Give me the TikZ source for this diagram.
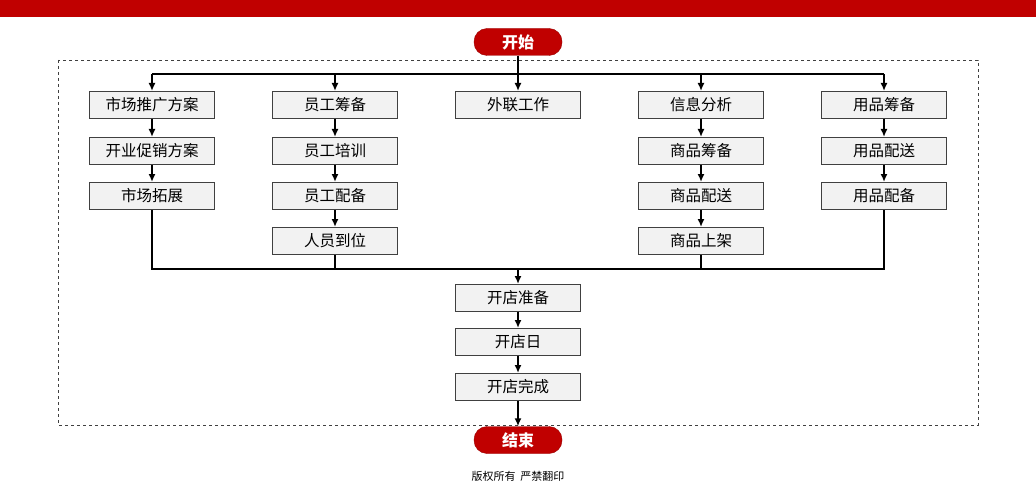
\documentclass[tikz,border=0pt]{standalone}
\usepackage{fontspec}
\setmainfont{Noto Sans CJK SC}
\usetikzlibrary{arrows.meta}
\definecolor{hdred}{RGB}{192,0,0}
\tikzset{
  stepbox/.style={draw=black!75, line width=1pt, fill=black!5, minimum width=125pt, minimum height=27pt, inner sep=0pt, font=\fontsize{15.5}{15.5}\selectfont},
  pill/.style={rounded corners=13pt, fill=hdred, draw=hdred!80!black, text=white, minimum width=88pt, minimum height=27pt, inner sep=0pt, font=\fontsize{16}{16}\selectfont\bfseries},
  link/.style={line width=1.6pt, -{Latex[length=8pt,width=7pt]}},
  wire/.style={line width=1.6pt}
}
\begin{document}
\begin{tikzpicture}[x=1pt,y=-1pt]
\useasboundingbox (0,0) rectangle (1036,500);
\fill[hdred] (0,0) rectangle (1036,17);
\draw[dashed, black!75, line width=0.9pt] (58,60) rectangle (978,425);
% start / end
\node[pill] (start) at (518,42) {开始};
\node[pill] (stop) at (518,440) {结束};
% columns
\node[stepbox] (a1) at (152,105) {市场推广方案};
\node[stepbox] (a2) at (152,151) {开业促销方案};
\node[stepbox] (a3) at (152,196) {市场拓展};
\node[stepbox] (b1) at (335,105) {员工筹备};
\node[stepbox] (b2) at (335,151) {员工培训};
\node[stepbox] (b3) at (335,196) {员工配备};
\node[stepbox] (b4) at (335,241) {人员到位};
\node[stepbox] (c1) at (518,105) {外联工作};
\node[stepbox] (d1) at (701,105) {信息分析};
\node[stepbox] (d2) at (701,151) {商品筹备};
\node[stepbox] (d3) at (701,196) {商品配送};
\node[stepbox] (d4) at (701,241) {商品上架};
\node[stepbox] (e1) at (884,105) {用品筹备};
\node[stepbox] (e2) at (884,151) {用品配送};
\node[stepbox] (e3) at (884,196) {用品配备};
\node[stepbox] (m1) at (518,298) {开店准备};
\node[stepbox] (m2) at (518,342) {开店日};
\node[stepbox] (m3) at (518,387) {开店完成};
\node[font=\fontsize{11}{11}\selectfont] (copy) at (518,476) {版权所有\ \ 严禁翻印};
% top bus
\coordinate (tl) at (152,74);
\coordinate (tr) at (884,74);
\draw[wire] (tl) -- (tr);
\draw[link] (start) -- (c1);
\foreach \n in {a1,b1,d1,e1}
  \draw[link] (\n |- tl) -- (\n);
% column chains
\foreach \u/\v in {a1/a2,a2/a3,b1/b2,b2/b3,b3/b4,d1/d2,d2/d3,d3/d4,e1/e2,e2/e3,m1/m2,m2/m3,m3/stop}
  \draw[link] (\u) -- (\v);
% bottom bus
\coordinate (bl) at (152,269);
\coordinate (br) at (884,269);
\draw[wire] (a3) -- (bl) -- (br) -- (e3);
\draw[wire] (b4) -- (b4 |- bl);
\draw[wire] (d4) -- (d4 |- bl);
\draw[link] (m1 |- bl) -- (m1);
\end{tikzpicture}
\end{document}
